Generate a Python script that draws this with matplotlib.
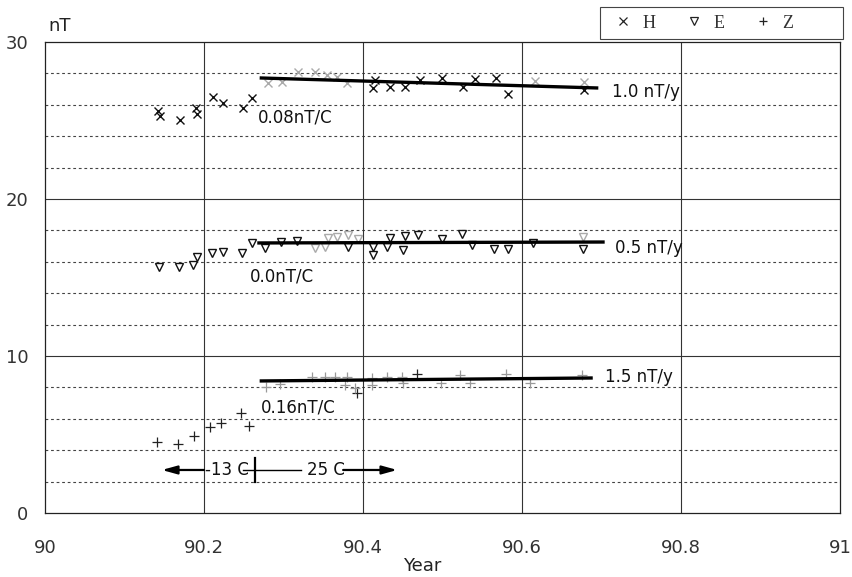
"""Geomagnetic H / E / Z drift vs year, with linear fits and temperature notes."""

import numpy as np
import matplotlib
matplotlib.use("Agg")
import matplotlib.pyplot as plt
from matplotlib.lines import Line2D
from matplotlib.patches import Rectangle

# --- data (year, nT) --------------------------------------------------------
h_year = [90.142, 90.145, 90.170, 90.190, 90.191, 90.211, 90.224, 90.249,
          90.260, 90.413, 90.434, 90.453, 90.415, 90.472, 90.499, 90.526,
          90.541, 90.567, 90.582, 90.678]
h_val = [25.61, 25.29, 25.03, 25.80, 25.41, 26.50, 26.11, 25.80,
         26.43, 27.07, 27.13, 27.13, 27.58, 27.58, 27.71, 27.13,
         27.64, 27.71, 26.69, 26.94]
h_faint_year = [90.281, 90.298, 90.318, 90.340, 90.355, 90.367, 90.380,
                90.616, 90.678]
h_faint_val = [27.39, 27.45, 28.09, 28.09, 27.90, 27.77, 27.39,
               27.52, 27.45]

e_year = [90.143, 90.169, 90.186, 90.191, 90.210, 90.224, 90.248, 90.260,
          90.277, 90.297, 90.317, 90.381, 90.413, 90.413, 90.430, 90.434,
          90.450, 90.453, 90.469, 90.499, 90.525, 90.537, 90.565, 90.582,
          90.614, 90.677]
e_val = [15.67, 15.67, 15.80, 16.31, 16.56, 16.62, 16.56, 17.20,
         16.88, 17.26, 17.32, 16.94, 16.94, 16.43, 16.94, 17.52,
         16.75, 17.64, 17.71, 17.45, 17.77, 17.07, 16.82, 16.82,
         17.20, 16.82]
e_faint_year = [90.340, 90.352, 90.356, 90.367, 90.381, 90.394, 90.677]
e_faint_val = [16.88, 16.94, 17.52, 17.58, 17.71, 17.45, 17.58]

z_year = [90.141, 90.167, 90.187, 90.208, 90.221, 90.247, 90.257,
          90.392, 90.468]
z_val = [4.52, 4.39, 4.90, 5.48, 5.73, 6.37, 5.54, 7.64, 8.85]
z_faint_year = [90.278, 90.296, 90.336, 90.352, 90.365, 90.380, 90.377,
                90.390, 90.411, 90.411, 90.430, 90.449, 90.450, 90.498,
                90.522, 90.535, 90.580, 90.610, 90.675]
z_faint_val = [8.03, 8.22, 8.66, 8.66, 8.66, 8.66, 8.15, 7.96, 8.60,
               8.15, 8.66, 8.66, 8.28, 8.28, 8.79, 8.28, 8.85, 8.28, 8.79]

# linear fits (end points)
h_fit_year, h_fit_val = [90.270, 90.696], [27.71, 27.07]
e_fit_year, e_fit_val = [90.267, 90.704], [17.20, 17.26]
z_fit_year, z_fit_val = [90.270, 90.689], [8.41, 8.60]

x_ticks = [90, 90.2, 90.4, 90.6, 90.8, 91]
x_labels = ["90", "90.2", "90.4", "90.6", "90.8", "91"]
y_ticks = [0, 10, 20, 30]

NARROW = ["Liberation Sans Narrow", "DejaVu Sans"]
SERIF = ["Liberation Serif", "DejaVu Serif"]

fig = plt.figure(figsize=(8.52, 5.77), dpi=100)
ax = fig.add_axes([45 / 852, 1 - 513 / 577, 795 / 852, 471 / 577])
ax.set_xlim(90, 91)
ax.set_ylim(0, 30)

# grid: dotted every 2 nT, solid at the major ticks
for yv in np.arange(2, 30, 2):
    if yv % 10:
        ax.axhline(yv, color="#444", lw=0.8, ls=(0, (2.5, 2.5)), zorder=1)
for yv in (10, 20):
    ax.axhline(yv, color="#333", lw=0.8, zorder=1)
for xv in (90.2, 90.4, 90.6, 90.8):
    ax.axvline(xv, color="#333", lw=0.8, zorder=1)

for s in ax.spines.values():
    s.set_linewidth(0.9)
    s.set_color("#222")

ax.set_xticks(x_ticks, x_labels)
ax.set_yticks(y_ticks)
ax.tick_params(length=0, labelsize=13, labelcolor="#333")
ax.tick_params(axis="x", pad=19)
ax.tick_params(axis="y", pad=12)

# markers
mk = dict(ls="none", zorder=3)
ax.plot(h_year, h_val, marker="x", ms=5.5, mew=1.0, color="#111", **mk)
ax.plot(h_faint_year, h_faint_val, marker="x", ms=5.5, mew=1.0, color="#aaa", **mk)
ax.plot(e_year, e_val, marker="v", ms=6, mew=1.0, mfc="white", mec="#111", **mk)
ax.plot(e_faint_year, e_faint_val, marker="v", ms=6, mew=1.0, mfc="white",
        mec="#aaa", **mk)
ax.plot(z_year, z_val, marker="+", ms=6.5, mew=0.9, color="#222", **mk)
ax.plot(z_faint_year, z_faint_val, marker="+", ms=6.5, mew=0.9, color="#999", **mk)

# fit lines
for fx, fy in ((h_fit_year, h_fit_val), (e_fit_year, e_fit_val),
               (z_fit_year, z_fit_val)):
    ax.plot(fx, fy, color="black", lw=2.4, solid_capstyle="butt", zorder=4)

# slope / temperature-coefficient labels
tk = dict(family=NARROW, fontsize=12, color="#111", va="center", zorder=5)
ax.text(90.268, 25.2, "0.08nT/C", **tk)
ax.text(90.713, 26.8, "1.0 nT/y", **tk)
ax.text(90.258, 15.05, "0.0nT/C", **tk)
ax.text(90.717, 16.9, "0.5 nT/y", **tk)
ax.text(90.271, 6.7, "0.16nT/C", **tk)
ax.text(90.705, 8.65, "1.5 nT/y", **tk)

# temperature periods arrow
ya = 2.74
arr = dict(arrowstyle="-|>,head_length=0.9,head_width=0.25", color="black",
           lw=1.6, shrinkA=0, shrinkB=0)
ax.annotate("", xy=(90.147, ya), xytext=(90.200, ya), arrowprops=arr)
ax.text(90.201, ya, "-13 C", **tk)
ax.plot([90.264, 90.264], [2.0, 3.5], color="black", lw=1.6, zorder=4)
ax.plot([90.249, 90.322], [ya, ya], color="black", lw=1.0, zorder=4)
ax.text(90.330, ya, "25 C", **tk)
ax.annotate("", xy=(90.443, ya), xytext=(90.375, ya), arrowprops=arr)

# axis captions
fig.text(48 / 852, 1 - 26 / 577, "nT", fontsize=13, color="#222", va="center")
fig.text(422 / 852, 1 - 566 / 577, "Year", fontsize=13, color="#222",
         ha="center", va="center")

# legend box above the plot
fig.patches.append(Rectangle((600 / 852, 1 - 39 / 577), 243 / 852, 32 / 577,
                             transform=fig.transFigure, fill=False,
                             ec="#444", lw=0.8))
handles = [
    Line2D([], [], ls="none", marker="x", ms=5.5, mew=0.9, color="#222"),
    Line2D([], [], ls="none", marker="v", ms=5.5, mew=0.9, mfc="white", mec="#222"),
    Line2D([], [], ls="none", marker="+", ms=6, mew=0.9, color="#222"),
]
leg = fig.legend(handles, ["H", "E", "Z"], ncol=3, loc="center left",
                 bbox_to_anchor=(614 / 852, 1 - 23 / 577), frameon=False,
                 handlelength=1.0, handletextpad=0.6, columnspacing=1.6,
                 borderpad=0, borderaxespad=0,
                 prop={"family": SERIF, "size": 13})
for t in leg.get_texts():
    t.set_color("#333")

fig.savefig("out.png", dpi=100)
